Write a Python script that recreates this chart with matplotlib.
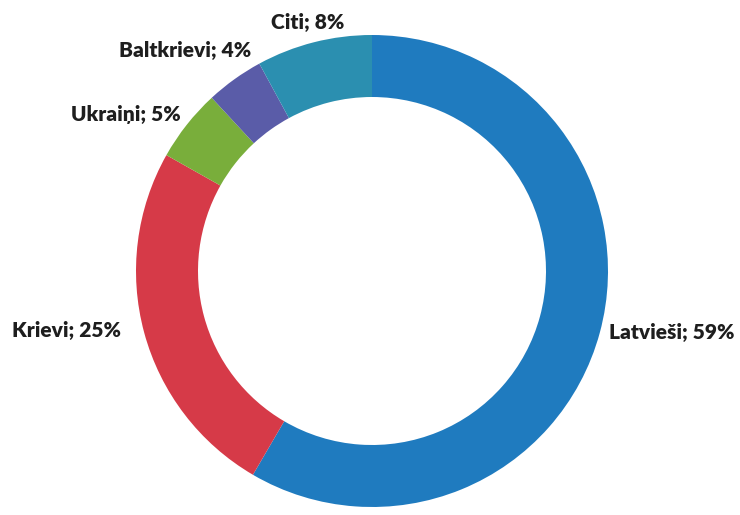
import matplotlib
matplotlib.use("Agg")
import matplotlib.pyplot as plt

# ethnic composition, % (labels as printed on the chart)
groups = ["Latvieši", "Krievi", "Ukraiņi", "Baltkrievi", "Citi"]
shares = [59, 25, 5, 4, 8]
colors = ["#1f7bbf", "#d63a48", "#79ae3b", "#5a5ca8", "#2b8fb0"]

# label centres in pixel space (x from left, y from top)
label_pos = [(672, 333), (67, 330), (126, 115), (185, 50), (308, 22)]

W, H = 740, 515
fig = plt.figure(figsize=(W / 100, H / 100), dpi=100)
ax = fig.add_axes([0, 0, 1, 1])

ax.pie(shares, colors=colors, startangle=90, counterclock=False,
       center=(372, H - 271), radius=236,
       wedgeprops=dict(width=62, edgecolor="none", linewidth=0))

for name, val, (x, y) in zip(groups, shares, label_pos):
    ax.text(x, H - y, "{}; {}%".format(name, val), ha="center", va="center",
            fontsize=15, fontweight="heavy", family=["Lato", "DejaVu Sans"],
            color="#1e1e1e")

ax.set_xlim(0, W)
ax.set_ylim(0, H)
ax.set_aspect("equal")
ax.axis("off")

fig.savefig("out.png", dpi=100, facecolor="white")
